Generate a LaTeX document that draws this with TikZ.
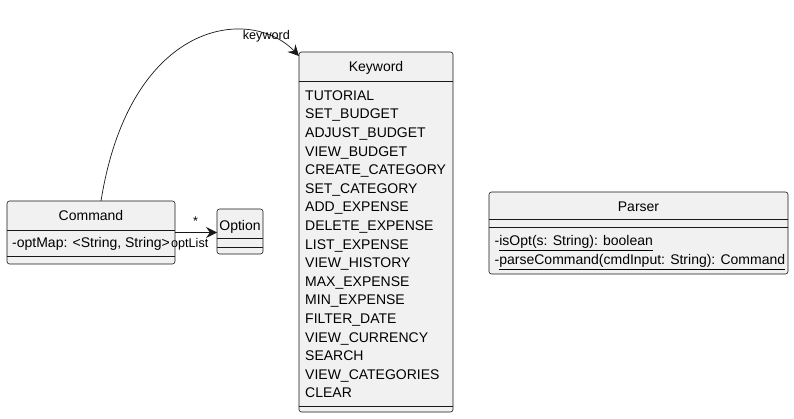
\documentclass[tikz,border=0pt]{standalone}
\usepackage{fontspec}
\setmainfont{Liberation Sans}
\usetikzlibrary{arrows.meta}
\definecolor{boxfill}{HTML}{F1F1F1}
\definecolor{boxline}{HTML}{181818}
\begin{document}
\begin{tikzpicture}[x=1pt,y=-1pt,
  box/.style={draw=boxline, fill=boxfill, rounded corners=2.5pt, line width=0.6pt, inner sep=0pt, outer sep=0pt, anchor=north west},
  sep/.style={draw=boxline, line width=0.6pt},
  btxt/.style={font=\fontsize{14}{16}\selectfont, inner sep=0pt, text=black},
  ltxt/.style={font=\fontsize{12.6}{15}\selectfont, inner sep=0pt, text=black},
  conn/.style={draw=boxline, line width=0.7pt, -{Stealth[length=11pt,width=11pt,inset=4pt]}}]
\useasboundingbox (0,0) rectangle (794,419);

% Command
\node[box, minimum width=168pt, minimum height=63pt] (cmd) at (7,201) {};
\draw[sep] (7,230) -- (175,230);
\draw[sep] (7,256) -- (175,256);
\node[btxt, anchor=base] (cmdt) at (91,221) {Command};
\node[btxt, anchor=base west] (cmda) at (12,248) {-optMap: <String, String>};

% Option
\node[box, minimum width=46pt, minimum height=45pt] (opt) at (217,209) {};
\draw[sep] (217,238) -- (263,238);
\draw[sep] (217,247) -- (263,247);
\node[btxt, anchor=base] (optt) at (240,230.5) {Option};

% Keyword
\node[box, minimum width=154pt, minimum height=360pt] (kw) at (299,52) {};
\draw[sep] (299,81) -- (453,81);
\draw[sep] (299,406) -- (453,406);
\node[btxt, anchor=base] (kwt) at (376,72) {Keyword};
\foreach \t [count=\i from 0] in {TUTORIAL,SET\_BUDGET,ADJUST\_BUDGET,VIEW\_BUDGET,CREATE\_CATEGORY,SET\_CATEGORY,ADD\_EXPENSE,DELETE\_EXPENSE,LIST\_EXPENSE,VIEW\_HISTORY,MAX\_EXPENSE,MIN\_EXPENSE,FILTER\_DATE,VIEW\_CURRENCY,SEARCH,VIEW\_CATEGORIES,CLEAR}
  \node[btxt, anchor=base west] (kwi\i) at (305,{100.3+\i*18.6}) {\t};

% Parser
\node[box, minimum width=299pt, minimum height=82pt] (par) at (489,192) {};
\draw[sep] (489,219) -- (788,219);
\draw[sep] (489,227) -- (788,227);
\node[btxt, anchor=base] (part) at (638.5,211.7) {Parser};
\node[btxt, anchor=base west] (parm1) at (494.5,245.5) {-\underline{isOpt(s: String): boolean}};
\node[btxt, anchor=base west] (parm2) at (494.5,264.5) {-\underline{parseCommand(cmdInput: String): Command}};

% connectors
\draw[conn] (cmd.east) -- (cmd.east -| opt.west);
\node[ltxt, anchor=base] (star) at (195.5,226) {*};
\node[ltxt, anchor=base west] (optl) at (171,247.7) {optList};

\draw[conn] ([xshift=10pt]cmd.north) .. controls (130,20) and (250,5) .. ([yshift=-4pt]kw.north west);
\node[ltxt, anchor=base west] (kwl) at (242.7,40) {keyword};
\end{tikzpicture}
\end{document}
